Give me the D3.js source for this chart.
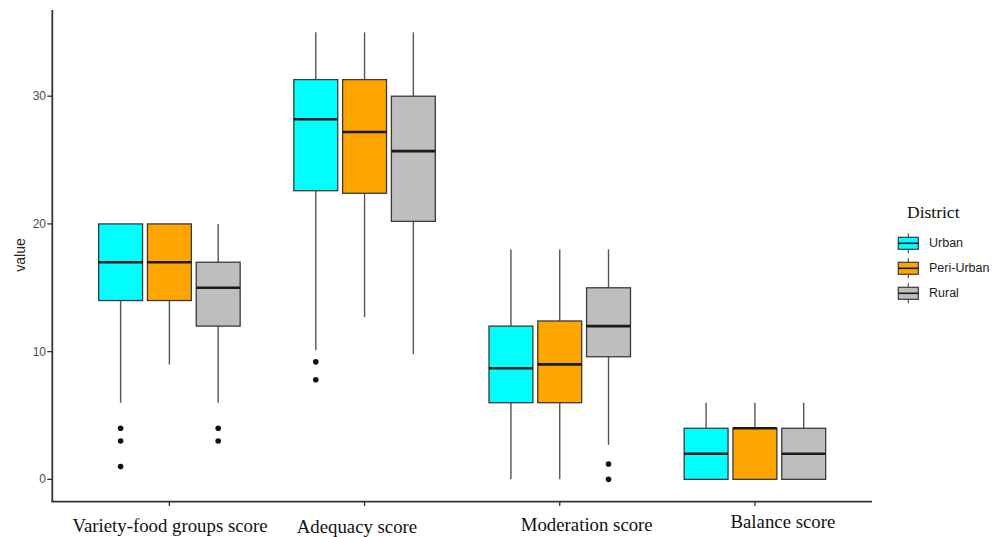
<!DOCTYPE html>
<html>
<head>
<meta charset="utf-8">
<script src="https://cdn.jsdelivr.net/npm/d3@7"></script>
<style>
  body { margin: 0; background: #fff; }
  svg { display: block; }
  .tick-label { font-family: "Liberation Sans", Arial, sans-serif; font-size: 12px; fill: #4d4d4d; }
  .cat-label { font-family: "Liberation Serif", "Times New Roman", serif; font-size: 18.8px; fill: #111; }
</style>
</head>
<body>
<script>
// data
const categories = ["Variety-food groups score", "Adequacy score", "Moderation score", "Balance score"];
const districts = ["Urban", "Peri-Urban", "Rural"];
const colors = ["#00ffff", "#ffa500", "#bebebe"];
const yTicks = [0, 10, 20, 30];

// [lower whisker, q1, median, q3, upper whisker] per category
const urbanStats = [[6, 14, 17, 20, 20], [10.1, 22.6, 28.2, 31.3, 35], [0, 6, 8.7, 12, 18], [0, 0, 2, 4, 6]];
const periUrbanStats = [[9, 14, 17, 20, 20], [12.7, 22.4, 27.2, 31.3, 35], [0, 6, 9, 12.4, 18], [0, 0, 4, 4, 6]];
const ruralStats = [[6, 12, 15, 17, 20], [9.8, 20.2, 25.7, 30, 35], [2.7, 9.6, 12, 15, 18], [0, 0, 2, 4, 6]];

const urbanOutliers = [[4, 3, 1], [9.2, 7.8], [], []];
const periUrbanOutliers = [[], [], [], []];
const ruralOutliers = [[4, 3], [], [1.2, 0], []];

const stats = [urbanStats, periUrbanStats, ruralStats];
const outliers = [urbanOutliers, periUrbanOutliers, ruralOutliers];

const W = 1000, H = 537;
const svg = d3.select("body").append("svg").attr("width", W).attr("height", H);

// discrete x positions with ggplot-like 0.6 expansion
const x = d3.scaleLinear().domain([-0.6, categories.length - 1 + 0.6]).range([52.3, 872]);
const y = d3.scaleLinear().domain([-1.75, 36.75]).range([501.7, 10]);

const dodge = 0.25, boxW = 0.225;
const unit = x(1) - x(0);

// boxes
districts.forEach((dist, di) => {
  const g = svg.append("g").attr("class", "district-" + di);
  categories.forEach((cat, ci) => {
    const s = stats[di][ci];
    const cx = x(ci + (di - 1) * dodge);
    const half = boxW * unit / 2;
    // whiskers
    g.append("line").attr("x1", cx).attr("x2", cx).attr("y1", y(s[4])).attr("y2", y(s[3]))
      .attr("stroke", "#555").attr("stroke-width", 1.4);
    g.append("line").attr("x1", cx).attr("x2", cx).attr("y1", y(s[1])).attr("y2", y(s[0]))
      .attr("stroke", "#555").attr("stroke-width", 1.4);
    // box
    g.append("rect").attr("x", cx - half).attr("y", y(s[3]))
      .attr("width", half * 2).attr("height", y(s[1]) - y(s[3]))
      .attr("fill", colors[di]).attr("stroke", "#3a3a3a").attr("stroke-width", 1.3);
    // median
    g.append("line").attr("x1", cx - half).attr("x2", cx + half).attr("y1", y(s[2])).attr("y2", y(s[2]))
      .attr("stroke", "#1a1a1a").attr("stroke-width", 2.6);
    // outliers
    g.selectAll(".out" + ci).data(outliers[di][ci]).enter().append("circle")
      .attr("cx", cx).attr("cy", d => y(d)).attr("r", 2.8).attr("fill", "#111");
  });
});

// axes
svg.append("line").attr("x1", x.range()[0]).attr("x2", x.range()[0]).attr("y1", 10).attr("y2", 501.7)
  .attr("stroke", "#333").attr("stroke-width", 1.8);
svg.append("line").attr("x1", x.range()[0] - 0.9).attr("x2", x.range()[1]).attr("y1", 501.7).attr("y2", 501.7)
  .attr("stroke", "#333").attr("stroke-width", 1.8);

yTicks.forEach(t => {
  svg.append("line").attr("x1", x.range()[0] - 5).attr("x2", x.range()[0]).attr("y1", y(t)).attr("y2", y(t))
    .attr("stroke", "#333").attr("stroke-width", 1.3);
  svg.append("text").attr("class", "tick-label").attr("x", 46).attr("y", y(t))
    .attr("text-anchor", "end").attr("dominant-baseline", "central").text(t);
});

// category labels sit a bit off the ticks in the original
const labelShift = [0.6, -7.6, 27, 28];
const labelBase = [532, 533, 531, 528];
categories.forEach((c, i) => {
  svg.append("line").attr("x1", x(i)).attr("x2", x(i)).attr("y1", 501.7).attr("y2", 506)
    .attr("stroke", "#333").attr("stroke-width", 1.3);
  svg.append("text").attr("class", "cat-label").attr("x", x(i) + labelShift[i]).attr("y", labelBase[i])
    .attr("text-anchor", "middle").text(c);
});

svg.append("text").attr("transform", "translate(25,255) rotate(-90)")
  .attr("text-anchor", "middle").attr("font-family", "Liberation Sans, Arial, sans-serif")
  .attr("font-size", 14).attr("fill", "#222").text("value");

// legend
const legend = svg.append("g").attr("class", "legend");
legend.append("text").attr("x", 907).attr("y", 218)
  .attr("font-family", "Liberation Serif, Times New Roman, serif").attr("font-size", 17.5).attr("fill", "#111")
  .text("District");
districts.forEach((d, i) => {
  const cy = 243.3 + i * 25;
  const kx = 898.3, kw = 20;
  legend.append("line").attr("x1", kx + kw / 2).attr("x2", kx + kw / 2).attr("y1", cy - 10).attr("y2", cy + 10)
    .attr("stroke", "#555").attr("stroke-width", 1.2);
  legend.append("rect").attr("x", kx).attr("y", cy - 6).attr("width", kw).attr("height", 12)
    .attr("fill", colors[i]).attr("stroke", "#3a3a3a").attr("stroke-width", 1.2);
  legend.append("line").attr("x1", kx).attr("x2", kx + kw).attr("y1", cy).attr("y2", cy)
    .attr("stroke", "#1a1a1a").attr("stroke-width", 1.6);
  legend.append("text").attr("x", 929).attr("y", cy).attr("dominant-baseline", "central")
    .attr("font-family", "Liberation Sans, Arial, sans-serif").attr("font-size", 12.5).attr("fill", "#222")
    .text(d);
});
</script>
</body>
</html>
